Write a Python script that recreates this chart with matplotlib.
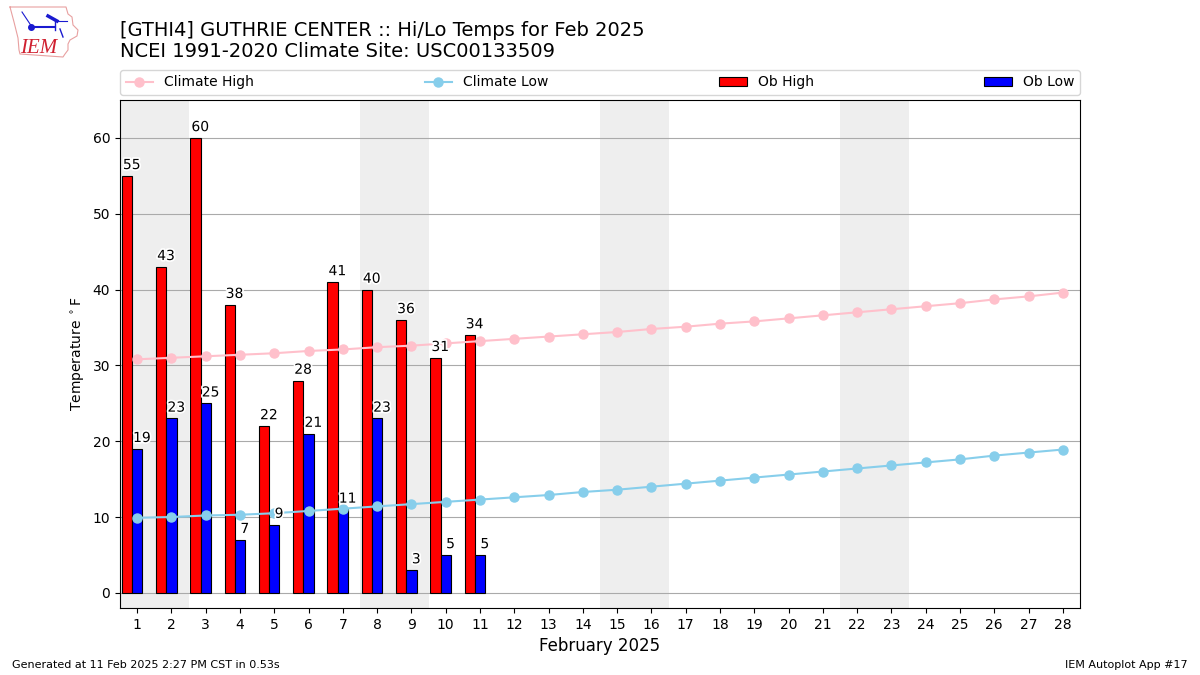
import matplotlib
matplotlib.use("Agg")
import matplotlib.pyplot as plt
import matplotlib.patheffects as pe

days = list(range(1, 29))
obs_days = list(range(1, 12))
ob_high = [55, 43, 60, 38, 22, 28, 41, 40, 36, 31, 34]
ob_low = [19, 23, 25, 7, 9, 21, 11, 23, 3, 5, 5]
climate_high = [30.8, 31.0, 31.2, 31.4, 31.6, 31.9, 32.1, 32.4, 32.6, 32.9, 33.2, 33.5, 33.8, 34.1,
                34.4, 34.8, 35.1, 35.5, 35.8, 36.2, 36.6, 37.0, 37.4, 37.8, 38.2, 38.7, 39.1, 39.6]
climate_low = [9.9, 10.0, 10.2, 10.3, 10.5, 10.8, 11.1, 11.4, 11.7, 12.0, 12.3, 12.6, 12.9, 13.3,
               13.6, 14.0, 14.4, 14.8, 15.2, 15.6, 16.0, 16.4, 16.8, 17.2, 17.6, 18.1, 18.5, 18.9]
weekend_starts = [1, 8, 15, 22]
title_text = "[GTHI4] GUTHRIE CENTER :: Hi/Lo Temps for Feb 2025\nNCEI 1991-2020 Climate Site: USC00133509"

W, H = 1200, 675
fig = plt.figure(figsize=(12, 6.75), dpi=100)
ax = fig.add_axes([120 / W, 1 - 608 / H, 960 / W, 508 / H])

for s in weekend_starts:
    ax.axvspan(s - 0.5, s + 1.5, color="#eeeeee", lw=0, zorder=0)
ax.yaxis.grid(True, color="#aaaaaa", lw=0.8, zorder=1)
ax.set_axisbelow(True)

bar_w = 0.3
ax.bar([d - bar_w for d in obs_days], ob_high, width=bar_w, color="red", edgecolor="k", lw=0.8, zorder=2, label="Ob High")
ax.bar(obs_days, ob_low, width=bar_w, color="blue", edgecolor="k", lw=0.8, zorder=2, label="Ob Low")
ax.plot(days, climate_high, color="pink", marker="o", lw=1.5, ms=6.5, zorder=3, label="Climate High")
ax.plot(days, climate_low, color="skyblue", marker="o", lw=1.5, ms=6.5, zorder=3, label="Climate Low")

stroke = [pe.withStroke(linewidth=2.5, foreground="white")]
for d, h, l in zip(obs_days, ob_high, ob_low):
    ax.text(d - bar_w + 0.14, h + 0.5, str(h), ha="center", va="bottom", fontsize=10, color="k", zorder=4, path_effects=stroke)
    ax.text(d + 0.14, l + 0.5, str(l), ha="center", va="bottom", fontsize=10, color="k", zorder=4, path_effects=stroke)

ax.set_xlim(0.5, 28.5)
ax.set_ylim(-2, 65)
ax.set_xticks(days)
ax.set_yticks(range(0, 61, 10))
ax.tick_params(labelsize=10)
ax.set_xlabel("February 2025", fontsize=12)
ax.set_ylabel(r"Temperature $^\circ$F", fontsize=10)

handles, labels = ax.get_legend_handles_labels()
order = [labels.index(n) for n in ["Climate High", "Climate Low", "Ob High", "Ob Low"]]
ax.legend([handles[i] for i in order], [labels[i] for i in order], ncol=4, mode="expand",
          loc="lower left", bbox_to_anchor=(0, 1 + 5 / 508, 1, 0.05), borderaxespad=0, fontsize=10, framealpha=0.8)

fig.text(120 / W, 1 - 61 / H, title_text, fontsize=14, ha="left", va="bottom", linespacing=1.1)
fig.text(12 / W, 1 - 670 / H, "Generated at 11 Feb 2025 2:27 PM CST in 0.53s", fontsize=8, ha="left", va="bottom")
fig.text(1188 / W, 1 - 670 / H, "IEM Autoplot App #17", fontsize=8, ha="right", va="bottom")

# logo, in screen-pixel coordinates of the reference
lg = fig.add_axes([0, 1 - 60 / H, 80 / W, 60 / H])
lg.set_xlim(0, 80)
lg.set_ylim(60, 0)
lg.axis("off")
ox = [10, 66, 68, 72, 73, 78, 77, 70, 68, 68, 65, 63, 20, 19, 18, 14, 10]
oy = [7, 7, 14, 17, 25, 30, 36, 40, 44, 50, 54, 57, 54, 50, 38, 22, 7]
lg.plot(ox, oy, color="#e8a0a0", lw=0.8)
lg.plot([32, 55], [27, 27], color="#1a1ad0", lw=1.5)
lg.plot([31], [27], "o", color="#1a1ad0", ms=4)
lg.plot([48, 57], [16, 21], color="#1a1ad0", lw=2.5)
lg.plot([57, 67], [21, 21], color="#1a1ad0", lw=0.8)
lg.plot([55, 55], [21, 30], color="#1a1ad0", lw=1)
lg.plot([60, 63], [29, 37], color="#1a1ad0", lw=1)
lg.plot([22, 32], [12, 27], color="#1a1ad0", lw=0.8)
lg.text(20, 53, "IEM", color="#d02030", fontsize=15, family="Liberation Serif", style="italic", ha="left", va="baseline")

fig.savefig("out.png", dpi=100)
